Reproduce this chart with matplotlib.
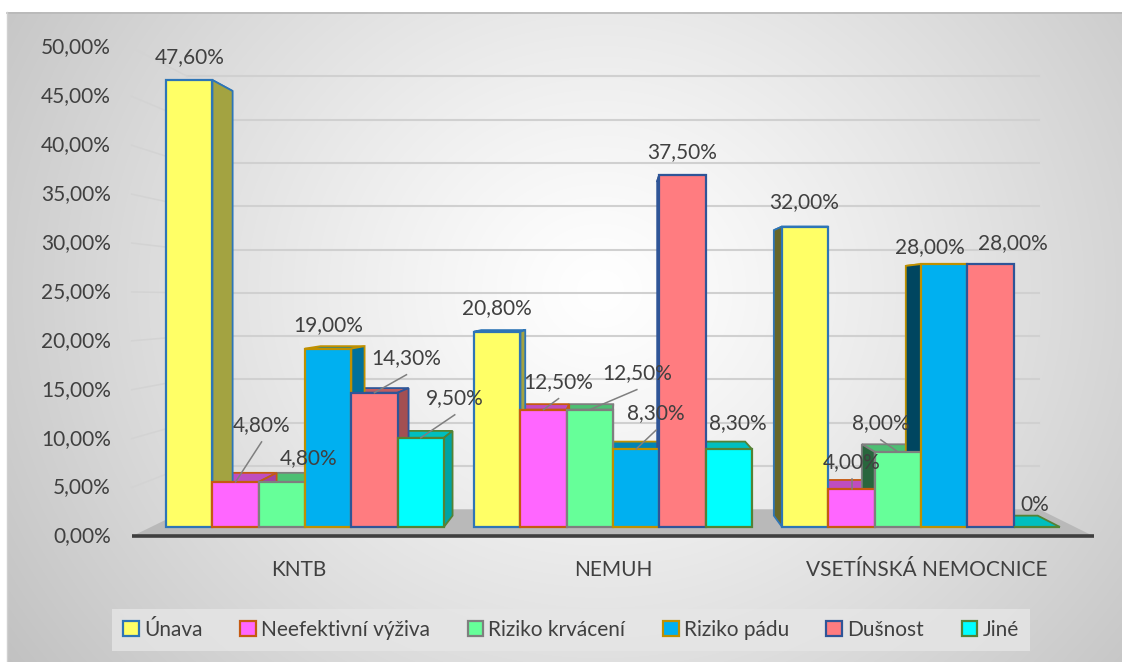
import numpy as np
import matplotlib
matplotlib.use("Agg")
import matplotlib.pyplot as plt
from matplotlib.patches import Polygon, Patch
from matplotlib.colors import to_rgb

# ---------------- data ----------------
categories = ["KNTB", "NEMUH", "VSETÍNSKÁ NEMOCNICE"]
series_names = ["Únava", "Neefektivní výživa", "Riziko krvácení",
                "Riziko pádu", "Dušnost", "Jiné"]
unava = [47.6, 20.8, 32.0]
neefektivni_vyziva = [4.8, 12.5, 4.0]
riziko_krvaceni = [4.8, 12.5, 8.0]
riziko_padu = [19.0, 8.3, 28.0]
dusnost = [14.3, 37.5, 28.0]
jine = [9.5, 8.3, 0.0]
tick_values = [0, 5, 10, 15, 20, 25, 30, 35, 40, 45, 50]

series_values = [unava, neefektivni_vyziva, riziko_krvaceni,
                 riziko_padu, dusnost, jine]

# ---------------- styles ----------------
face_colors = ["#FFFF66", "#FF66FF", "#66FF99", "#00B0F0", "#FF7C80", "#00FFFF"]
edge_colors = ["#2E75B6", "#C55A11", "#7F7F7F", "#BF9000", "#2F5597", "#548235"]

# label placement relative to bar top (pixels: dx, dy upward-negative, leader line)
label_offsets = [
    [(0, -23, False), (0, -24, False), (-1, -24, False)],
    [(26, -57, True), (15, -28, True), (0, -27, True)],
    [(27, -24, False), (47, -37, True), (-17, -29, True)],
    [(0, -23, False), (20, -36, True), (-14, -17, False)],
    [(32, -35, True), (0, -23, False), (22, -21, False)],
    [(34, -40, True), (9, -26, False), (-2, -22, False)],
]

TEXT = "#404040"
plt.rcParams["font.family"] = ["Lato", "DejaVu Sans"]
FS = 15

W_PX, H_PX = 1122, 662
DPI = 100

# pixel scale of the bar plane (category units / percent per pixel)
PX_X = 1 / 308.0
PX_Y = 1 / 9.39
ORIGIN_PX = (613, 527)          # category 1 centre, 0 % baseline

# perspective: depth d moves a point toward the vanishing point
VX, VY = 1 + 4 * PX_X, 227 * PX_Y
BAR_DEPTH = 0.05
FLOOR_FRONT, FLOOR_BACK = -0.0415, 0.078
BAR_W = 46.3 * PX_X


def proj(x, y, d):
    return x + d * (VX - x), y + d * (VY - y)


def shade(c, k):
    r, g, b = to_rgb(c)
    return (r * k, g * k, b * k)


fig = plt.figure(figsize=(W_PX / DPI, H_PX / DPI), dpi=DPI)
fig.patch.set_facecolor("white")

# ---- chart-area background (soft radial gradient) ----
bg = fig.add_axes([0, 0, 1, 1])
bg.set_xlim(0, W_PX)
bg.set_ylim(H_PX, 0)
bg.axis("off")
yy, xx = np.mgrid[12:H_PX, 7:W_PX]
r = np.hypot((xx - 600) / 1.0, (yy - 290) / 0.9) / 720.0
val = 1.0 - (1.0 - 0.76) * np.clip(r, 0, 1) ** 1.2
img = np.dstack([val, val, val])
bg.imshow(img, extent=(7, W_PX, H_PX, 12), aspect="auto", zorder=0)
bg.plot([7, W_PX], [12.5, 12.5], color="#b8b8b8", lw=1.2, zorder=1)
bg.plot([7.5, 7.5], [12, H_PX], color="#d0d0d0", lw=1.0, zorder=1)

# ---- main axes in bar-plane data units ----
ax = fig.add_axes([0, 0, 1, 1])
ax.patch.set_alpha(0)
ax.axis("off")
ax.set_xlim(1 - ORIGIN_PX[0] * PX_X, 1 + (W_PX - ORIGIN_PX[0]) * PX_X)
ax.set_ylim(-(H_PX - ORIGIN_PX[1]) * PX_Y, ORIGIN_PX[1] * PX_Y)

x_lo, x_hi = -0.5, len(categories) - 0.5

# floor
floor = [proj(x_lo, 0, FLOOR_FRONT), proj(x_hi, 0, FLOOR_FRONT),
         proj(x_hi, 0, FLOOR_BACK), proj(x_lo, 0, FLOOR_BACK)]
ax.add_patch(Polygon(floor, closed=True, facecolor="#b9b9b9",
                     edgecolor="none", zorder=1))
fx0, fy0 = proj(x_lo, 0, FLOOR_FRONT)
fx1, fy1 = proj(x_hi, 0, FLOOR_FRONT)
ax.plot([fx0, fx1], [fy0, fy1], color="#3f3f3f", lw=2.6,
        solid_capstyle="butt", zorder=1.2)

# gridlines on the back and side walls
for v in tick_values[1:]:
    bx0, by0 = proj(x_lo, v, FLOOR_BACK)
    bx1, by1 = proj(x_hi, v, FLOOR_BACK)
    sx0, sy0 = proj(x_lo, v, FLOOR_FRONT)
    ax.plot([bx0, bx1], [by0, by1], color="#d0d0d0", lw=1.5, zorder=1.1)
    ax.plot([sx0, bx0], [sy0, by0], color="#d3d3d3", lw=1.1, zorder=1.1)

# value axis labels on the front edge
for v in tick_values:
    tx, ty = proj(x_lo, v, FLOOR_FRONT)
    ax.text(tx - 21 * PX_X, ty, f"{v:.2f}".replace(".", ",") + "%",
            ha="right", va="center", fontsize=FS, color=TEXT)

# category labels
for i, name in enumerate(categories):
    cx, _ = proj(i, 0, -0.02)
    ax.text(cx, fy0 - 34 * PX_Y, name, ha="center", va="center",
            fontsize=FS, color=TEXT)

# bars
for s, vals in enumerate(series_values):
    face, edge = face_colors[s], edge_colors[s]
    for i, h in enumerate(vals):
        xc = i + (s - 2.5) * BAR_W
        x0, x1 = xc - BAR_W / 2, xc + BAR_W / 2
        top = [proj(x0, h, 0), proj(x1, h, 0), proj(x1, h, BAR_DEPTH),
               proj(x0, h, BAR_DEPTH)]
        ax.add_patch(Polygon(top, closed=True, facecolor=shade(face, 0.75),
                             edgecolor=edge, lw=1.3, zorder=2))
        if h > 0:
            right = [proj(x1, 0, 0), proj(x1, h, 0), proj(x1, h, BAR_DEPTH),
                     proj(x1, 0, BAR_DEPTH)]
            left = [proj(x0, 0, 0), proj(x0, h, 0), proj(x0, h, BAR_DEPTH),
                    proj(x0, 0, BAR_DEPTH)]
            if x1 < VX:
                ax.add_patch(Polygon(right, closed=True,
                                     facecolor=shade(face, 0.64),
                                     edgecolor=edge, lw=1.3, zorder=3))
            if x0 > VX:
                ax.add_patch(Polygon(left, closed=True,
                                     facecolor=shade(face, 0.40),
                                     edgecolor=edge, lw=1.3, zorder=3))
        ax.bar(xc, h, width=BAR_W, bottom=0, color=face, edgecolor=edge,
               linewidth=1.6, zorder=4)

        dx, dy, leader = label_offsets[s][i]
        lx, ly = xc + dx * PX_X, h - dy * PX_Y
        txt = "0%" if h == 0 else f"{h:.2f}".replace(".", ",") + "%"
        ax.text(lx, ly, txt, ha="center", va="center", fontsize=FS,
                color=TEXT, zorder=6)
        if leader:
            ax.plot([lx, xc], [ly - 17 * PX_Y, h], color="#7f7f7f",
                    lw=1.1, zorder=5)

# legend
handles = [Patch(facecolor=face_colors[k], edgecolor=edge_colors[k],
                 linewidth=1.6, label=series_names[k])
           for k in range(len(series_names))]
leg = fig.legend(handles=handles, loc="center", ncol=6,
                 bbox_to_anchor=(571 / W_PX, 1 - 630 / H_PX),
                 fontsize=FS, frameon=True, fancybox=False,
                 handlelength=0.75, handleheight=0.75, handletextpad=0.25,
                 columnspacing=1.8, borderpad=0.55)
leg.get_frame().set_facecolor("#e6e6e6")
leg.get_frame().set_edgecolor("none")
for t in leg.get_texts():
    t.set_color(TEXT)

fig.savefig("out.png", dpi=DPI)
